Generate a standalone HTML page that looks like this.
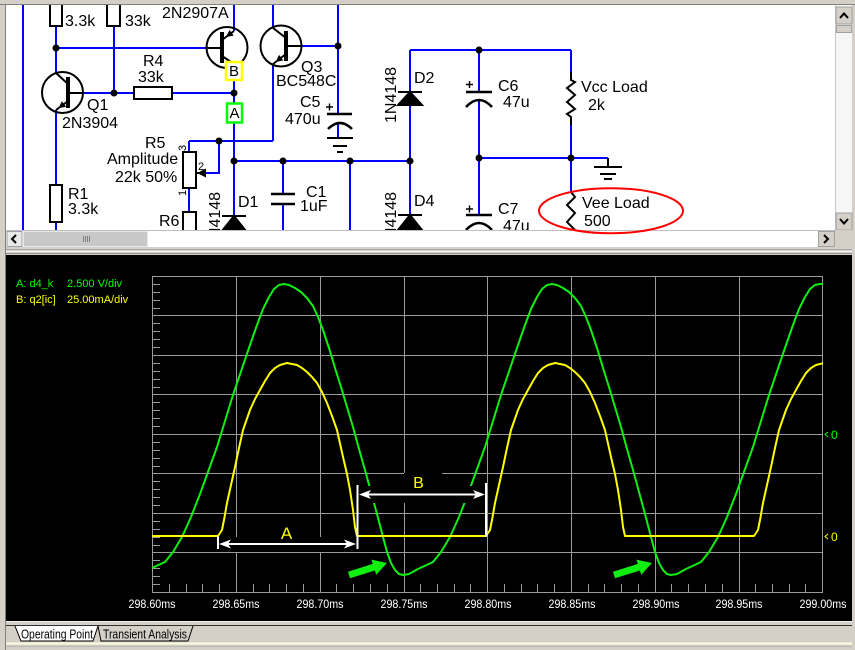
<!DOCTYPE html>
<html><head><meta charset="utf-8">
<style>
html,body{margin:0;padding:0;background:#d4d0c8;overflow:hidden;}
svg{display:block;}
text{font-family:"Liberation Sans",Arial,sans-serif;}
</style></head><body>
<svg width="855" height="650" viewBox="0 0 855 650" xmlns="http://www.w3.org/2000/svg">
<defs>
<clipPath id="sch"><rect x="6" y="5" width="829" height="225"/></clipPath>
<clipPath id="plot"><rect x="152" y="270" width="671" height="330"/></clipPath>
</defs>
<rect width="855" height="650" fill="#d4d0c8"/>
<line x1="0" y1="4.5" x2="855" y2="4.5" stroke="#808080"/>
<line x1="5.5" y1="4" x2="5.5" y2="650" stroke="#808080"/>

<!-- ========== SCHEMATIC ========== -->
<rect x="6" y="5" width="829" height="225" fill="#fff"/>
<g clip-path="url(#sch)">
 <path fill="none" stroke="#0000ff" stroke-width="2" d="M23,5V230 M56,26V73 M56,110V185 M56,222V230 M56,48H207 M114,26V93 M83,93H134 M172,93H234 M234,5V31 M234,64V216 M189,141H273 M273,141V64 M189,141V152 M219,141V173H205 M189,188V212 M234,161H410 M283,161V194 M283,204V230 M350,161V230 M273,5V28 M302,46H338 M338,5V114 M338,123V138 M410,50V92 M410,105V215 M410,50H571 M479,50V92 M479,100V215 M479,158H608 M571,50V72 M571,125V192"/>
 <g stroke="#000" stroke-width="2" fill="#fff">
  <rect x="50" y="-2" width="12" height="28"/>
  <rect x="107" y="-2" width="13" height="28"/>
  <rect x="134" y="87" width="38" height="12"/>
  <rect x="50" y="185" width="12" height="37"/>
  <rect x="183" y="152" width="13" height="36"/>
  <rect x="183" y="212" width="13" height="30"/>
 </g>
 <g stroke="#000" stroke-width="2" fill="none">
  <circle cx="62.5" cy="92.5" r="20.5"/>
  <path d="M68,93H83 M68,84L56,73 M68,101L56,110"/>
  <circle cx="227" cy="47.5" r="20.5"/>
  <path d="M207,48H222 M222,40L234,31 M222,56L234,64"/>
  <circle cx="281" cy="46" r="20.5"/>
  <path d="M286,46H302 M286,38L273,28 M286,54L273,64"/>
 </g>
 <path stroke="#000" stroke-width="4" d="M68,77V108 M222,32V63 M286,31V61"/>
 <g fill="#000">
  <polygon points="58.4,108.2 66.1,106.8 61.9,101.2"/>
  <polygon points="275.7,61.9 283.3,60.5 279.1,54.9"/>
  <polygon points="226,37 233.7,35.6 229.5,30"/>
  <polygon points="197,173 206,168.5 206,177.5"/>
 </g>
 <path stroke="#000" stroke-width="2" d="M205,173H197"/>
 <g fill="#000" stroke="#000" stroke-width="2">
  <path d="M222,216H246 M398,92H422 M398,215H422"/>
  <polygon points="234,216 246,231 222,231"/>
  <polygon points="410,92 422,105 398,105"/>
  <polygon points="410,215 422,230 398,230"/>
 </g>
 <g fill="none" stroke="#000" stroke-width="2.5">
  <path d="M271,194H295 M271,204H295"/>
  <path d="M327,114H352"/>
  <path d="M328,129 Q340,117 352,129"/>
  <path d="M466,92H492"/>
  <path d="M466,107 Q479,93 492,107"/>
  <path d="M466,215H492"/>
  <path d="M466,230 Q479,216 492,230"/>
 </g>
 <g stroke="#000" stroke-width="1.4">
  <path d="M326,107H333 M329.5,103.5V110.5"/>
  <path d="M466,84.5H473 M469.5,81V88"/>
  <path d="M466,209H473 M469.5,205.5V212.5"/>
 </g>
 <g stroke="#000" stroke-width="2">
  <path d="M327,138H353 M333,146H347 M337,152H343"/>
  <path d="M608,158V167 M594,167H622 M600,174H616 M604,179H612"/>
 </g>
 <g fill="none" stroke="#000" stroke-width="2" stroke-linejoin="miter">
  <path d="M571,72V80 L575,82 L567,88 L575,95 L567,102 L575,109 L567,114 L571,117 V125"/>
  <path d="M571,192 L575,197 L567,205 L575,213 L567,222 L575,230 L571,234"/>
 </g>
 <g fill="#000">
  <circle cx="56" cy="48" r="3.5"/><circle cx="114" cy="93" r="3.5"/>
  <circle cx="234" cy="93" r="3.5"/><circle cx="219" cy="141" r="3.5"/>
  <circle cx="234" cy="161" r="3.5"/><circle cx="283" cy="161" r="3.5"/>
  <circle cx="350" cy="161" r="3.5"/><circle cx="410" cy="161" r="3.5"/>
  <circle cx="338" cy="46" r="3.5"/><circle cx="479" cy="50" r="3.5"/>
  <circle cx="479" cy="158" r="3.5"/><circle cx="571" cy="158" r="3.5"/>
 </g>
 <rect x="226" y="62" width="16" height="18" fill="#fff" stroke="#ffff00" stroke-width="2.5"/>
 <text x="234" y="76" text-anchor="middle" font-size="15" fill="#000">B</text>
 <rect x="227" y="103.5" width="15" height="19" fill="#fff" stroke="#00ff00" stroke-width="2.5"/>
 <text x="234.5" y="118" text-anchor="middle" font-size="15" fill="#000">A</text>
 <g font-size="16" fill="#000">
  <text x="65" y="26">3.3k</text>
  <text x="125" y="26">33k</text>
  <text x="162" y="18">2N2907A</text>
  <text x="143" y="66">R4</text>
  <text x="138" y="82">33k</text>
  <text x="87" y="110">Q1</text>
  <text x="62" y="128">2N3904</text>
  <text x="145" y="148">R5</text>
  <text x="107" y="164">Amplitude</text>
  <text x="115" y="182">22k 50%</text>
  <text x="68" y="199">R1</text>
  <text x="68" y="214">3.3k</text>
  <text x="159" y="226">R6</text>
  <text x="238" y="207">D1</text>
  <text x="301" y="72">Q3</text>
  <text x="276" y="86">BC548C</text>
  <text x="300" y="107">C5</text>
  <text x="285" y="124">470u</text>
  <text x="306" y="197">C1</text>
  <text x="300" y="211">1uF</text>
  <text x="414" y="83">D2</text>
  <text x="414" y="206">D4</text>
  <text x="498" y="91">C6</text>
  <text x="503" y="107">47u</text>
  <text x="581" y="92">Vcc Load</text>
  <text x="588" y="110">2k</text>
  <text x="582" y="208">Vee Load</text>
  <text x="584" y="226">500</text>
  <text x="498" y="214">C7</text>
  <text x="503" y="231">47u</text>
  <text transform="translate(396,123) rotate(-90)">1N4148</text>
  <text transform="translate(396,248) rotate(-90)">1N4148</text>
  <text transform="translate(220,248) rotate(-90)">1N4148</text>
 </g>
 <g font-size="11" fill="#000">
  <text transform="translate(186,151) rotate(-90)">3</text>
  <text x="198" y="170">2</text>
  <text transform="translate(186,196) rotate(-90)">1</text>
 </g>
</g>

<!-- vertical scrollbar -->
<rect x="835" y="5" width="17" height="225" fill="#f6f6f6"/>
<line x1="835.5" y1="5" x2="835.5" y2="230" stroke="#c8c8c8"/>
<rect x="836" y="7" width="16" height="17" fill="#d4d0c8" stroke="#a0a0a0" stroke-width="1"/>
<polyline points="840,18 844,13.5 848,18" fill="none" stroke="#000" stroke-width="2"/>
<rect x="836.5" y="25.5" width="15" height="7" fill="#d4d0c8" stroke="#a0a0a0"/>
<rect x="836" y="213" width="16" height="17" fill="#d4d0c8" stroke="#a0a0a0" stroke-width="1"/>
<polyline points="840,219 844,223.5 848,219" fill="none" stroke="#000" stroke-width="2"/>
<!-- horizontal scrollbar -->
<rect x="6" y="230" width="829" height="17" fill="#fff"/>
<line x1="6" y1="230.5" x2="835" y2="230.5" stroke="#c0c0c0"/>
<rect x="7" y="231.5" width="15" height="15" fill="#e8e8e8" stroke="#a0a0a0"/>
<polyline points="16,235 12,239 16,243" fill="none" stroke="#000" stroke-width="2"/>
<rect x="23.5" y="231.5" width="124" height="15" fill="#c8c8c8" stroke="#e8e8e8"/>
<path d="M83.5,236V242 M85.5,236V242 M87.5,236V242 M89.5,236V242" stroke="#808080"/>
<rect x="818.5" y="231.5" width="16" height="15" fill="#d4d0c8" stroke="#a0a0a0"/>
<polyline points="824,235 828,239 824,243" fill="none" stroke="#000" stroke-width="2"/>
<rect x="835" y="230" width="17" height="17" fill="#d4d0c8"/>
<rect x="6" y="247" width="849" height="8" fill="#d4d0c8"/>
<line x1="6" y1="249.5" x2="852" y2="249.5" stroke="#a8a8a8"/>
<line x1="6" y1="251.5" x2="852" y2="251.5" stroke="#f4f4f4"/>
<line x1="6" y1="253.5" x2="852" y2="253.5" stroke="#909090"/>

<!-- ========== SCOPE ========== -->
<rect x="6" y="255" width="846" height="366" fill="#000"/>
<g stroke="#9a9a9a" stroke-width="1" fill="none">
 <rect x="152.5" y="276.5" width="670" height="316"/>
 <path d="M236.5,276V592 M320.5,276V592 M404.5,276V592 M487.5,276V592 M571.5,276V592 M655.5,276V592 M739.5,276V592"/>
 <path d="M152,315.5H822 M152,355.5H822 M152,394.5H822 M152,434.5H822 M152,473.5H822 M152,513.5H822 M152,552.5H822"/>
 <path d="M152,284.5h8 M152,292.5h8 M152,300.5h8 M152,308.5h8 M152,323.5h8 M152,331.5h8 M152,339.5h8 M152,347.5h8 M152,363.5h8 M152,371.5h8 M152,379.5h8 M152,387.5h8 M152,402.5h8 M152,410.5h8 M152,418.5h8 M152,426.5h8 M152,442.5h8 M152,450.5h8 M152,458.5h8 M152,466.5h8 M152,481.5h8 M152,489.5h8 M152,497.5h8 M152,505.5h8 M152,521.5h8 M152,529.5h8 M152,537.5h8 M152,545.5h8 M152,560.5h8 M152,568.5h8 M152,576.5h8 M152,584.5h8"/>
 <path d="M169.5,584v8 M186.5,584v8 M202.5,584v8 M219.5,584v8 M253.5,584v8 M269.5,584v8 M286.5,584v8 M303.5,584v8 M336.5,584v8 M353.5,584v8 M370.5,584v8 M387.5,584v8 M420.5,584v8 M437.5,584v8 M454.5,584v8 M470.5,584v8 M504.5,584v8 M521.5,584v8 M537.5,584v8 M554.5,584v8 M588.5,584v8 M604.5,584v8 M621.5,584v8 M638.5,584v8 M671.5,584v8 M688.5,584v8 M705.5,584v8 M722.5,584v8 M755.5,584v8 M772.5,584v8 M789.5,584v8 M805.5,584v8"/>
</g>
<g clip-path="url(#plot)" fill="none" stroke-width="2" stroke-linejoin="round">
 <polyline stroke="#10f010" points="152,568 165,562 173,552 182,537 191,517 200,494 217,447 233,395 250,345 257,325 263,309 269,297 274,289 279,285 284,284 289,285 295,288 301,292 307,298 313,306 318,317 323,330 329,348 335,368 341,387 347,407 353,427 359,449 365,470 371,492 377,514 383,537 387,552 391,563 395,570 399,574 403,575 409,574 418,569 433,562 441,552 450,537 459,517 468,494 485,447 501,395 518,345 525,325 531,309 537,297 542,289 547,285 552,284 557,285 563,288 569,292 575,298 581,306 586,317 591,330 597,348 603,368 609,387 615,407 621,427 627,449 633,470 639,492 645,514 651,537 655,552 659,563 663,570 667,574 671,575 677,574 686,569 701,562 709,552 718,537 727,517 736,494 753,447 769,395 786,345 793,325 799,309 805,297 810,289 815,285 820,284 824,284"/>
 <polyline stroke="#ffff00" points="152,536 218,536 222,530 224,520 227,503 231,485 235,467 239,448 243,430 250,410 255,399 260,390 265,381 270,373 275,368 280,365 287,363 292,364 297,365 302,368 307,372 312,377 317,383 322,392 327,403 332,416 337,430 343,457 347,474 350,490 353,510 355,527 357,536 486,536 490,530 492,520 495,503 499,485 503,467 507,448 511,430 518,410 523,399 528,390 533,381 538,373 543,368 548,365 555,363 560,364 565,365 570,368 575,372 580,377 585,383 590,392 595,403 600,416 605,430 611,457 615,474 618,490 621,510 623,527 625,536 754,536 758,530 760,520 763,503 767,485 771,467 775,448 779,430 786,410 791,399 796,390 801,381 806,373 811,368 816,365 824,363"/>
</g>
<g fill="#000">
 <rect x="219" y="537" width="137" height="15"/>
 <rect x="358" y="486" width="127" height="17"/>
 <rect x="404" y="473" width="38" height="30"/>
</g>
<g stroke="#fff" stroke-width="2" fill="none">
 <path d="M222,544H353 M218,536V549 M357.5,485V549"/>
 <path d="M362,494.5H482 M486,483V537"/>
</g>
<g fill="#fff">
 <polygon points="219,544 231,539.5 228,544 231,548.5"/>
 <polygon points="356,544 344,539.5 347,544 344,548.5"/>
 <polygon points="359,494.5 371,490 368,494.5 371,499"/>
 <polygon points="485,494.5 473,490 476,494.5 473,499"/>
</g>
<text x="286.5" y="539" text-anchor="middle" font-size="17" fill="#ffff00">A</text>
<text x="418.5" y="488" text-anchor="middle" font-size="16" fill="#ffff00">B</text>
<g fill="#10f010">
 <polygon points="350,578.3 374.9,570.5 376.2,574.8 387,563 371.4,559.6 372.8,563.9 348,571.7"/>
 <polygon points="615,578.3 639.9,570.5 641.2,574.8 652,563 636.4,559.6 637.8,563.9 613,571.7"/>
</g>
<g font-size="11">
 <text x="16" y="287" fill="#00ff00">A: d4_k</text>
 <text x="67" y="287" fill="#00ff00">2.500 V/div</text>
 <text x="16" y="303" fill="#ffff00">B: q2[ic]</text>
 <text x="67" y="303" fill="#ffff00">25.00mA/div</text>
</g>
<path d="M828,432 L825,434.5 L828,437" fill="none" stroke="#00ff00" stroke-width="1"/>
<text x="831" y="439" font-size="12" fill="#00ff00">0</text>
<path d="M828,534 L825,536.5 L828,539" fill="none" stroke="#ffff00" stroke-width="1"/>
<text x="831" y="541" font-size="12" fill="#ffff00">0</text>
<g font-size="12" fill="#fff" text-anchor="middle">
 <text x="152" y="608" textLength="47" lengthAdjust="spacingAndGlyphs">298.60ms</text>
 <text x="236" y="608" textLength="47" lengthAdjust="spacingAndGlyphs">298.65ms</text>
 <text x="320" y="608" textLength="47" lengthAdjust="spacingAndGlyphs">298.70ms</text>
 <text x="404" y="608" textLength="47" lengthAdjust="spacingAndGlyphs">298.75ms</text>
 <text x="488" y="608" textLength="47" lengthAdjust="spacingAndGlyphs">298.80ms</text>
 <text x="572" y="608" textLength="47" lengthAdjust="spacingAndGlyphs">298.85ms</text>
 <text x="656" y="608" textLength="47" lengthAdjust="spacingAndGlyphs">298.90ms</text>
 <text x="739" y="608" textLength="47" lengthAdjust="spacingAndGlyphs">298.95ms</text>
 <text x="823" y="608" textLength="47" lengthAdjust="spacingAndGlyphs">299.00ms</text>
</g>

<ellipse cx="611" cy="210.7" rx="72" ry="22.5" fill="none" stroke="#ff0000" stroke-width="2"/>

<!-- ========== BOTTOM TABS ========== -->
<rect x="6" y="621" width="846" height="29" fill="#d4d0c8"/>
<line x1="6" y1="621.5" x2="852" y2="621.5" stroke="#f0f0f0"/>
<line x1="6" y1="625.5" x2="852" y2="625.5" stroke="#303030"/>
<path d="M15,626 L21,641 H93 L98,626 Z" fill="#fff"/>
<path d="M15,626 L21,641 H93 L98,626" fill="none" stroke="#000"/>
<path d="M98,626 L101,641 H188 L193,626" fill="none" stroke="#000"/>
<text x="21" y="638.5" font-size="13" fill="#000" textLength="72" lengthAdjust="spacingAndGlyphs">Operating Point</text>
<text x="103" y="638.5" font-size="13" fill="#000" textLength="84" lengthAdjust="spacingAndGlyphs">Transient Analysis</text>
<line x1="6" y1="643.5" x2="852" y2="643.5" stroke="#fffbe0" stroke-width="2"/>
<line x1="6" y1="646.5" x2="852" y2="646.5" stroke="#b8b8b8"/>
</svg>
</body></html>
